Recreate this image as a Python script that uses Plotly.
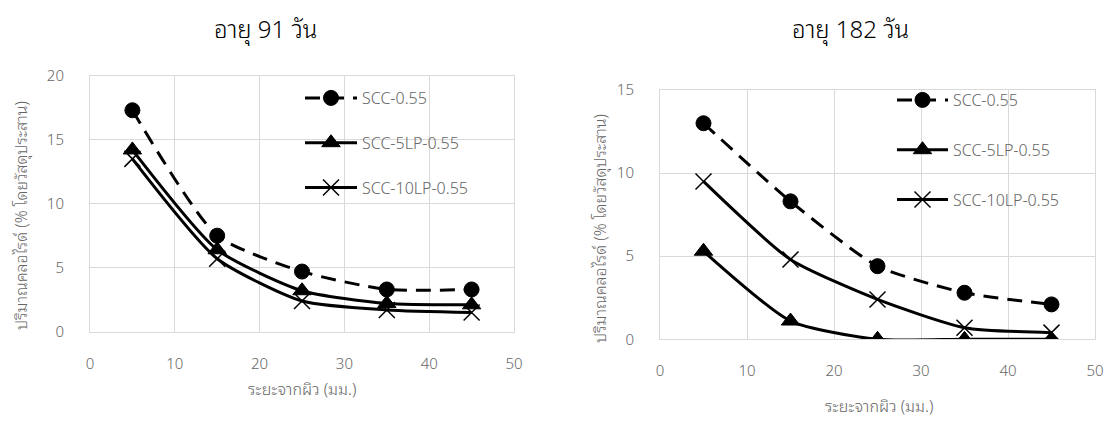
import plotly.graph_objects as go

# ---- data ----
depth = [5, 15, 25, 35, 45]
series_names = ["SCC-0.55", "SCC-5LP-0.55", "SCC-10LP-0.55"]
d91_scc = [17.3, 7.5, 4.7, 3.3, 3.3]
d91_5lp = [14.2, 6.4, 3.2, 2.2, 2.1]
d91_10lp = [13.5, 5.7, 2.4, 1.7, 1.5]
d182_scc = [13.0, 8.3, 4.4, 2.8, 2.1]
d182_5lp = [5.3, 1.1, 0.0, 0.0, 0.0]
d182_10lp = [9.5, 4.8, 2.4, 0.7, 0.4]
titles = ["อายุ 91 วัน", "อายุ 182 วัน"]
xtitle = "ระยะจากผิว (มม.)"
ytitle = "ปริมาณคลอไรด์ (% โดยวัสดุประสาน)"
xticks = [0, 10, 20, 30, 40, 50]

W, H = 1115, 421
OFF = 8  # page body margin
FONT = "Noto Sans Thai Looped, Noto Sans Thai, Noto Sans, DejaVu Sans, sans-serif"
GRAY = "#666666"
GRID = "#d9d9d9"

styles = [
    dict(dash="15px,9px", symbol="circle", size=15, lw=1),
    dict(dash="solid", symbol="triangle-up", size=16, lw=1),
    dict(dash="solid", symbol="x-thin-open", size=16, lw=1.5),
]

fig = go.Figure()

def add_series(vals_list, xa, ya, legend):
    for name, vals, st in zip(series_names, vals_list, styles):
        fig.add_trace(go.Scatter(
            x=depth, y=vals, name=name, xaxis=xa, yaxis=ya, legend=legend,
            legendgroup=legend + name,
            mode="lines+markers",
            line=dict(color="black", width=3, dash=st["dash"], shape="spline", smoothing=0.6),
            marker=dict(symbol=st["symbol"], size=st["size"], color="black",
                        line=dict(color="black", width=st["lw"])),
        ))

add_series([d91_scc, d91_5lp, d91_10lp], "x", "y", "legend")
add_series([d182_scc, d182_5lp, d182_10lp], "x2", "y2", "legend2")

def px_x(p):
    return (p - OFF) / W

def px_y(p):
    return 1 - (p - OFF) / H

axis_common = dict(showgrid=True, gridcolor=GRID, gridwidth=1, showline=True, linecolor=GRID,
                   linewidth=1, mirror=True, zeroline=False, ticks="", automargin=False,
                   tickfont=dict(family=FONT, size=15, color=GRAY, weight=300))

legend_font = dict(family=FONT, size=16, color=GRAY, weight=300)

fig.update_layout(
    width=W, height=H, margin=dict(l=0, r=0, t=0, b=0, pad=0, autoexpand=False),
    paper_bgcolor="white", plot_bgcolor="white",
    xaxis=dict(domain=[px_x(90), px_x(514)], range=[0, 50], tickvals=xticks, anchor="y",
               ticklabelstandoff=18, **axis_common),
    yaxis=dict(domain=[px_y(331.7), px_y(75.7)], range=[0, 20], dtick=5, anchor="x",
               ticklabelstandoff=22, **axis_common),
    xaxis2=dict(domain=[px_x(660), px_x(1095)], range=[0, 50], tickvals=xticks, anchor="y2",
                ticklabelstandoff=18, **axis_common),
    yaxis2=dict(domain=[px_y(339.3), px_y(90)], range=[0, 15], dtick=5, anchor="x2",
                ticklabelstandoff=22, **axis_common),
    legend=dict(x=px_x(300), y=px_y(81), xanchor="left", yanchor="top",
                font=legend_font, bgcolor="rgba(0,0,0,0)",
                tracegroupgap=21, itemwidth=52),
    legend2=dict(x=px_x(892), y=px_y(83), xanchor="left", yanchor="top",
                 font=legend_font, bgcolor="rgba(0,0,0,0)",
                 tracegroupgap=26, itemwidth=51),
    showlegend=True,
)

def ann(text, x, y, size, color, angle=0):
    return dict(text=text, x=px_x(x), y=px_y(y), xref="paper", yref="paper",
                xanchor="center", yanchor="middle", textangle=angle,
                showarrow=False, font=dict(family=FONT, size=size, color=color, weight=300))

fig.update_layout(annotations=[
    ann(titles[0], 265, 27, 24, "black"),
    ann(titles[1], 850, 27, 24, "black"),
    ann(xtitle, 302, 388, 16, GRAY),
    ann(xtitle, 879, 405, 16, GRAY),
    ann(ytitle, 20, 216, 16, GRAY, -90),
    ann(ytitle, 599, 229, 16, GRAY, -90),
])

fig.write_html("out.html")
